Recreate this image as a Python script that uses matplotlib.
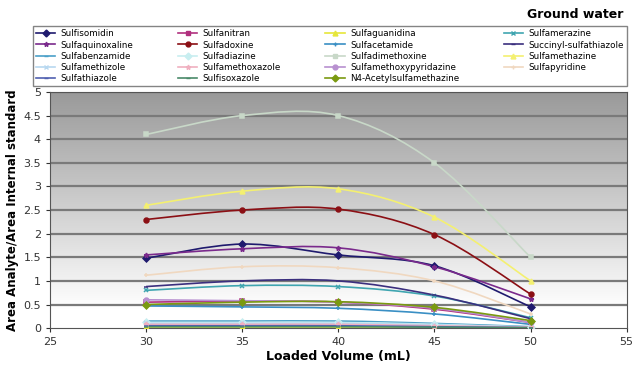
import matplotlib
matplotlib.use("Agg")
import matplotlib.pyplot as plt
import numpy as np
from matplotlib.path import Path
from matplotlib.patches import PathPatch
from matplotlib.lines import Line2D

volumes = [30, 35, 40, 45, 50]

names = ["Sulfisomidin", "Sulfanitran", "Sulfaguanidina", "Sulfamerazine",
         "Sulfaquinoxaline", "Sulfadoxine", "Sulfacetamide", "Succinyl-sulfathiazole",
         "Sulfabenzamide", "Sulfadiazine", "Sulfadimethoxine", "Sulfamethazine",
         "Sulfamethizole", "Sulfamethoxazole", "Sulfamethoxypyridazine", "Sulfapyridine",
         "Sulfathiazole", "Sulfisoxazole", "N4-Acetylsulfamethazine"]

sulfisomidin = [1.48, 1.78, 1.55, 1.32, 0.45]
sulfanitran = [0.55, 0.57, 0.55, 0.40, 0.12]
sulfaguanidina = [0.02, 0.02, 0.02, 0.01, 0.01]
sulfamerazine = [0.80, 0.90, 0.88, 0.68, 0.22]
sulfaquinoxaline = [1.55, 1.68, 1.70, 1.30, 0.62]
sulfadoxine = [2.30, 2.50, 2.52, 1.98, 0.72]
sulfacetamide = [0.47, 0.45, 0.42, 0.30, 0.08]
succinyl = [0.88, 1.00, 1.00, 0.70, 0.20]
sulfabenzamide = [0.15, 0.15, 0.15, 0.10, 0.03]
sulfadiazine = [0.12, 0.12, 0.12, 0.08, 0.02]
sulfadimethoxine = [4.10, 4.50, 4.50, 3.50, 1.50]
sulfamethazine = [2.60, 2.90, 2.95, 2.35, 1.00]
sulfamethizole = [0.10, 0.10, 0.10, 0.07, 0.02]
sulfamethoxazole = [0.08, 0.08, 0.08, 0.05, 0.02]
sulfamethoxypyridazine = [0.60, 0.58, 0.55, 0.42, 0.12]
sulfapyridine = [1.12, 1.30, 1.28, 1.00, 0.30]
sulfathiazole = [0.05, 0.05, 0.05, 0.03, 0.01]
sulfisoxazole = [0.03, 0.03, 0.03, 0.02, 0.01]
n4_acetyl = [0.50, 0.55, 0.56, 0.44, 0.16]

series = [sulfisomidin, sulfanitran, sulfaguanidina, sulfamerazine,
          sulfaquinoxaline, sulfadoxine, sulfacetamide, succinyl,
          sulfabenzamide, sulfadiazine, sulfadimethoxine, sulfamethazine,
          sulfamethizole, sulfamethoxazole, sulfamethoxypyridazine, sulfapyridine,
          sulfathiazole, sulfisoxazole, n4_acetyl]

colors = ["#1f1a6e", "#b0307e", "#e6e63a", "#3fa5b0",
          "#7a2a8c", "#8b0f14", "#3a8fc4", "#3b2f7e",
          "#4aa0c8", "#c8eef0", "#c8d8c8", "#f4f070",
          "#b8d8f0", "#f0b0c0", "#b890d0", "#f0d8c0",
          "#5060b0", "#4a8a6a", "#7a9a10"]
markers = ["D", "s", "^", "x", "*", "o", "+", "_",
           "_", "D", "s", "^", "x", "*", "o", "+",
           "_", "_", "D"]


def smooth_path(x, y):
    # catmull-rom -> cubic bezier, like excel's smoothed line
    pts = np.column_stack([x, y]).astype(float)
    verts = [pts[0]]
    codes = [Path.MOVETO]
    n = len(pts)
    for i in range(n - 1):
        p0 = pts[max(i - 1, 0)]
        p1 = pts[i]
        p2 = pts[i + 1]
        p3 = pts[min(i + 2, n - 1)]
        c1 = p1 + (p2 - p0) / 6.0
        c2 = p2 - (p3 - p1) / 6.0
        verts += [c1, c2, p2]
        codes += [Path.CURVE4] * 3
    return Path(verts, codes)


fig = plt.figure(figsize=(6.33, 3.65), dpi=100)
ax = fig.add_axes([0.079, 0.101, 0.911, 0.647])

# grey gradient background: white near the bottom, mid grey at the top
t = np.clip((np.linspace(0, 5, 256) - 0.4) / 4.6, 0, 1)
level = 1.0 - 0.40 * t
bg = np.repeat(level[:, None, None], 3, axis=2)
ax.imshow(bg, extent=[25, 55, 0, 5], aspect="auto", origin="lower", zorder=0)

for yv in np.arange(0.5, 5.01, 0.5):
    ax.axhline(yv, color="#7a7a7a", lw=1.6, zorder=1)

handles = []
for name, vals, c, m in zip(names, series, colors, markers):
    ax.add_patch(PathPatch(smooth_path(volumes, vals), facecolor="none",
                           edgecolor=c, lw=1.2, zorder=2))
    ax.plot(volumes, vals, linestyle="none", marker=m, color=c, ms=3.5,
            mew=1.1, zorder=3)
    handles.append(Line2D([], [], color=c, marker=m, ms=3.5, lw=1.2, label=name))

ax.set_xlim(25, 55)
ax.set_ylim(0, 5)
ax.set_xticks(range(25, 56, 5))
ax.set_yticks(np.arange(0, 5.01, 0.5))
ax.set_yticklabels(["0", "0.5", "1", "1.5", "2", "2.5", "3", "3.5", "4", "4.5", "5"])
ax.tick_params(labelsize=8, colors="#333333", length=3)
for s in ax.spines.values():
    s.set_color("#555555")
ax.set_xlabel("Loaded Volume (mL)", fontsize=9, fontweight="bold", labelpad=2)
ax.set_ylabel("Area Analyte/Area Internal standard", fontsize=8.5, fontweight="bold", labelpad=3)

# legend reads row by row in the reference; matplotlib fills columns
order = [i for col in range(4) for i in range(col, len(handles), 4)]
fig.legend(handles=[handles[i] for i in order], ncol=4, loc="upper left",
           bbox_to_anchor=(0.052, 0.765, 0.938, 0.163), mode="expand",
           fontsize=6.3, frameon=True, fancybox=False, edgecolor="#666666",
           handlelength=2.2, labelspacing=0.25, borderpad=0.35, handletextpad=0.6,
           borderaxespad=0)

fig.text(0.985, 0.96, "Ground water", ha="right", va="center",
         fontsize=9, fontweight="bold")

fig.savefig("out.png", dpi=100)
